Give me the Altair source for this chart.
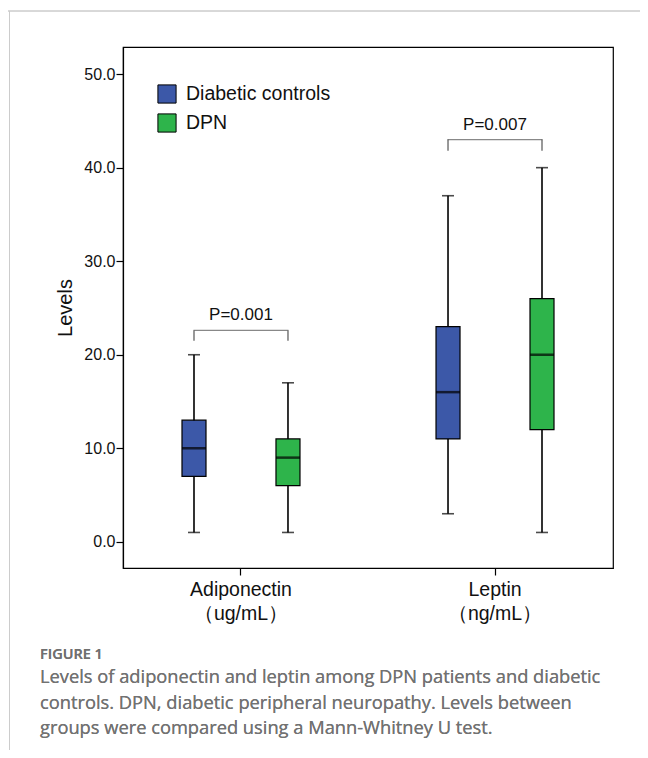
import altair as alt
import pandas as pd

# ---- data ----
categories = ["Adiponectin", "Leptin"]
units = ["（ug/mL）", "（ng/mL）"]
groups = ["Diabetic controls", "DPN"]
colors = ["#3c58a8", "#2eb44b"]

# per category, per group: lower whisker, Q1, median, Q3, upper whisker
lower = {"Adiponectin": [1.0, 1.0], "Leptin": [3.0, 1.0]}
q1 = {"Adiponectin": [7.0, 6.0], "Leptin": [11.0, 12.0]}
median = {"Adiponectin": [10.0, 9.0], "Leptin": [16.0, 20.0]}
q3 = {"Adiponectin": [13.0, 11.0], "Leptin": [23.0, 26.0]}
upper = {"Adiponectin": [20.0, 17.0], "Leptin": [37.0, 40.0]}

p_labels = ["P=0.001", "P=0.007"]
bracket_top = [22.6, 43.0]
bracket_end = [21.5, 41.8]
p_text_y = [24.3, 44.6]

y_ticks = [0, 10, 20, 30, 40, 50]

caption_title = "FIGURE 1"
caption_lines = [
    "Levels of adiponectin and leptin among DPN patients and diabetic",
    "controls. DPN, diabetic peripheral neuropathy. Levels between",
    "groups were compared using a Mann-Whitney U test.",
]

# ---- tables ----
cat_labels = [c + "\n" + u for c, u in zip(categories, units)]
rows = []
for c, cl in zip(categories, cat_labels):
    for i, g in enumerate(groups):
        rows.append({"cat": cl, "group": g, "lo": lower[c][i], "q1": q1[c][i],
                     "med": median[c][i], "q3": q3[c][i], "hi": upper[c][i]})
box = pd.DataFrame(rows)

brk_rows = []
for cl, t, e in zip(cat_labels, bracket_top, bracket_end):
    for g in groups:
        brk_rows.append({"cat": cl, "group": g, "top": t, "end": e})
brk = pd.DataFrame(brk_rows)
ptxt = pd.DataFrame({"cat": cat_labels, "label": p_labels, "y": p_text_y,
                     "top": bracket_top})

FONT = "Liberation Sans"
CAPFONT = "Open Sans"

xs = alt.Scale(domain=cat_labels, paddingInner=0.26, paddingOuter=0.0945)
ys = alt.Scale(domain=[-2.8, 52.9], nice=False, zero=False)
xo = alt.Scale(domain=groups, paddingInner=0, paddingOuter=0)

x_enc = alt.X("cat:N", scale=xs, sort=cat_labels, title=None,
              axis=alt.Axis(labelExpr="split(datum.label, '\\n')", labelAngle=0,
                            labelFont=FONT, labelFontSize=19.5, labelLineHeight=24,
                            labelColor="#111", labelPadding=5, tickSize=7,
                            tickColor="black", tickWidth=1.2, domainColor="black",
                            domainWidth=1.2, grid=False))
y_enc = alt.Y("lo:Q", scale=ys, title="Levels",
              axis=alt.Axis(values=y_ticks, format=".1f", labelFont=FONT,
                            labelFontSize=16, labelColor="#111", labelPadding=1,
                            tickSize=7, tickColor="black", tickWidth=1.2,
                            domainColor="black", domainWidth=1.2, grid=False,
                            titleFont=FONT, titleFontSize=20,
                            titleFontWeight="normal", titleColor="#111",
                            titlePadding=8))
xo_enc = alt.XOffset("group:N", scale=xo, sort=groups)

base = alt.Chart(box)

whisk = base.mark_rule(color="black", strokeWidth=1.6).encode(
    x=x_enc, xOffset=xo_enc, y=y_enc, y2="hi:Q")
cap_lo = base.mark_tick(color="black", size=12, thickness=1.6).encode(
    x="cat:N", xOffset=xo_enc, y="lo:Q")
cap_hi = base.mark_tick(color="black", size=12, thickness=1.6).encode(
    x="cat:N", xOffset=xo_enc, y="hi:Q")
bars = base.mark_bar(size=24, stroke="black", strokeWidth=1.2).encode(
    x="cat:N", xOffset=xo_enc, y="q1:Q", y2="q3:Q",
    color=alt.Color("group:N", scale=alt.Scale(domain=groups, range=colors),
                    title=None,
                    legend=alt.Legend(orient="none", legendX=34, legendY=37,
                                      symbolType="square", symbolSize=330,
                                      symbolStrokeColor="black",
                                      symbolStrokeWidth=1, symbolOpacity=1,
                                      labelFont=FONT, labelFontSize=19.5,
                                      labelColor="#111", labelOffset=9,
                                      rowPadding=5, padding=0)))
med = base.mark_tick(color="black", size=24, thickness=2.5).encode(
    x="cat:N", xOffset=xo_enc, y="med:Q")

brk_h = alt.Chart(ptxt).mark_tick(color="#555", size=95, thickness=1.2).encode(
    x="cat:N", y="top:Q")
brk_v = alt.Chart(brk).mark_rule(color="#555", strokeWidth=1.2).encode(
    x="cat:N", xOffset=xo_enc, y="top:Q", y2="end:Q")
ptext = alt.Chart(ptxt).mark_text(font=FONT, fontSize=17, color="#111",
                                  baseline="middle").encode(
    x="cat:N", y="y:Q", text="label:N")

# decorative page frame and caption (pixel positions relative to the plot)
frame_top = alt.Chart(ptxt).mark_rule(color="#cccccc", strokeWidth=1).encode(
    x=alt.value(-115), x2=alt.value(525), y=alt.value(-36))
frame_left = alt.Chart(ptxt).mark_rule(color="#cccccc", strokeWidth=1).encode(
    x=alt.value(-113.5), y=alt.value(-36), y2=alt.value(703))

cap_layers = [
    alt.Chart(ptxt).mark_text(font=CAPFONT, fontSize=14.5, fontWeight=600,
                              color="#707070", align="left",
                              baseline="middle").encode(
        x=alt.value(-83), y=alt.value(608), text=alt.value(caption_title))
]
for i, line in enumerate(caption_lines):
    cap_layers.append(
        alt.Chart(ptxt).mark_text(font=CAPFONT, fontSize=18.3, color="#727272",
                                  align="left", baseline="middle").encode(
            x=alt.value(-83), y=alt.value(631 + 25.5 * i), text=alt.value(line)))

chart = alt.layer(whisk, cap_lo, cap_hi, bars, med, brk_h, brk_v, ptext,
                  frame_top, frame_left, *cap_layers).properties(
    width=490, height=521,
    autosize=alt.AutoSizeParams(type="none"),
    padding={"left": 115, "top": 39, "right": 27, "bottom": 182},
).configure_view(stroke="black", strokeWidth=1.2)

chart.save("out.html", embed_options={"renderer": "svg", "actions": False})
